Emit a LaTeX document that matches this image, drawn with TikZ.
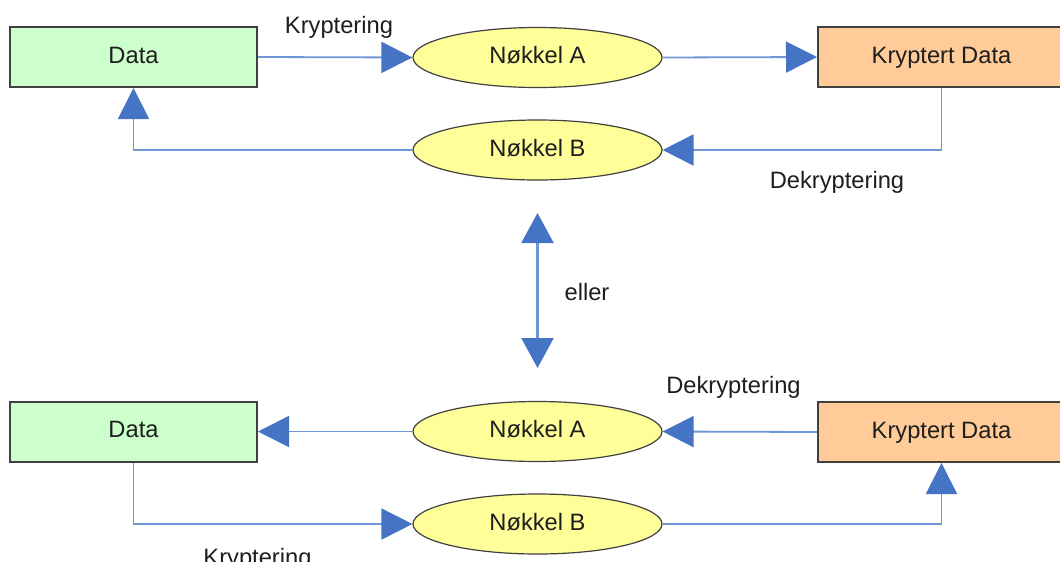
\documentclass[tikz,border=0pt]{standalone}
\usepackage{fontspec}
\setmainfont{Liberation Sans}
\usetikzlibrary{arrows.meta,shapes.geometric}
\definecolor{boxgreen}{HTML}{CCFFCC}
\definecolor{boxorange}{HTML}{FFCC99}
\definecolor{keyyellow}{HTML}{FFFF99}
\definecolor{edgegray}{HTML}{404040}
\definecolor{linkblue}{HTML}{6E96D6}
\definecolor{headblue}{HTML}{4674C4}
\definecolor{inkdark}{HTML}{1E1E1E}
\tikzset{
  txt/.style={font=\fontsize{23.7}{28}\selectfont, text=inkdark},
  databox/.style={txt, rectangle, draw=edgegray, line width=2pt, fill=boxgreen,
    minimum width=247pt, minimum height=60pt, inner sep=0pt,
    text height=17pt, text depth=5pt},
  cryptbox/.style={databox, fill=boxorange},
  keyshape/.style={txt, ellipse, draw=edgegray, line width=1.2pt, fill=keyyellow,
    minimum width=249pt, minimum height=60pt, inner sep=0pt,
    text height=17pt, text depth=5pt},
  link/.style={draw=linkblue, line width=1.8pt,
    -{Triangle[length=31pt,width=31pt,color=headblue]}},
  biglink/.style={draw=linkblue, line width=2.2pt,
    {Triangle[length=30pt,width=32pt,color=headblue]}-{Triangle[length=30pt,width=32pt,color=headblue]}},
  lbl/.style={txt, anchor=base, inner sep=0pt}
}
\begin{document}
\begin{tikzpicture}[x=1pt,y=-1pt]
\useasboundingbox[fill=white] (0,0) rectangle (1060,562);

% upper scheme: encrypt with key A, decrypt with key B
\node[databox]  (dataT)  at (133.5,57)  {Data};
\node[keyshape] (keyAT)  at (537.5,57.5) {Nøkkel A};
\node[cryptbox] (cryptT) at (941.5,57)  {Kryptert Data};
\node[keyshape] (keyBT)  at (537.5,150) {Nøkkel B};

\draw[link] (dataT.east) -- (keyAT.west);
\draw[link] (keyAT.east) -- (cryptT.west);
\draw[link] (cryptT.south) |- (keyBT.east);
\draw[link] (keyBT.west) -| (dataT.south);

\node[lbl] (encT) at (339,33)  {Kryptering};
\node[lbl] (decT) at (837,188) {Dekryptering};

% either way round
\coordinate (orTop) at (537.5,213);
\coordinate (orBot) at (537.5,368);
\draw[biglink] (orTop) -- (orBot);
\node[lbl] (orText) at (587,300) {eller};

% lower scheme: encrypt with key B, decrypt with key A
\node[databox]  (dataB)  at (133.5,431.5) {Data};
\node[keyshape] (keyAB)  at (537.5,431.5) {Nøkkel A};
\node[cryptbox] (cryptB) at (941.5,432)   {Kryptert Data};
\node[keyshape] (keyBB)  at (537.5,524)   {Nøkkel B};

\draw[link] (cryptB.west) -- (keyAB.east);
\draw[link] (keyAB.west) -- (dataB.east);
\draw[link] (dataB.south) |- (keyBB.west);
\draw[link] (keyBB.east) -| (cryptB.south);

\node[lbl] (decB) at (733.5,393) {Dekryptering};
\node[lbl] (encB) at (257.5,565) {Kryptering};
\end{tikzpicture}
\end{document}
